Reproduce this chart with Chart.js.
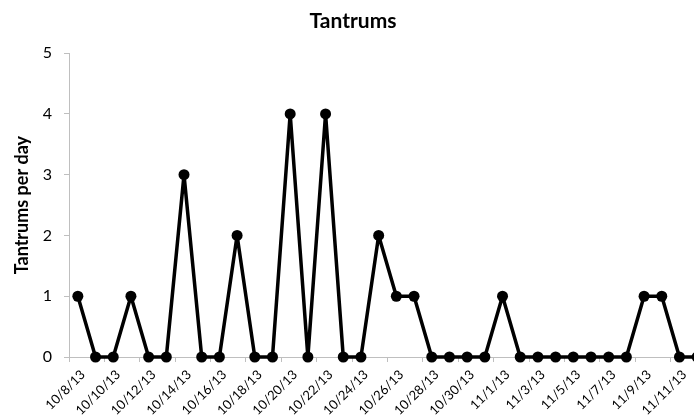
<!DOCTYPE html>
<html>
<head>
<meta charset="utf-8">
<script src="https://cdn.jsdelivr.net/npm/chart.js@4"></script>
<style>
html,body{margin:0;padding:0;background:#fff;overflow:hidden;width:694px;height:417px;}
#wrap{position:absolute;left:0;top:0;width:716px;height:417px;}
</style>
</head>
<body>
<div id="wrap"><canvas id="c" width="716" height="417"></canvas></div>
<script>
const categories = ["10/8/13","10/9/13","10/10/13","10/11/13","10/12/13","10/13/13","10/14/13","10/15/13","10/16/13","10/17/13","10/18/13","10/19/13","10/20/13","10/21/13","10/22/13","10/23/13","10/24/13","10/25/13","10/26/13","10/27/13","10/28/13","10/29/13","10/30/13","10/31/13","11/1/13","11/2/13","11/3/13","11/4/13","11/5/13","11/6/13","11/7/13","11/8/13","11/9/13","11/10/13","11/11/13","11/12/13"];
const tantrums = [1,0,0,1,0,0,3,0,0,2,0,0,4,0,4,0,0,2,1,1,0,0,0,0,1,0,0,0,0,0,0,0,1,1,0,0];
const yTicks = [0,1,2,3,4,5];
const chartTitle = "Tantrums";
const yTitle = "Tantrums per day";

const FONT = "Lato, 'Open Sans', sans-serif";
new Chart(document.getElementById('c'), {
  type: 'line',
  data: {
    labels: categories,
    datasets: [{
      data: tantrums,
      borderColor: '#000',
      backgroundColor: '#000',
      borderWidth: 3.5,
      borderJoinStyle: 'round',
      pointRadius: 5.5,
      pointHoverRadius: 5.5,
      pointBackgroundColor: '#000',
      pointBorderColor: '#000',
      pointBorderWidth: 0,
      tension: 0,
      clip: false
    }]
  },
  options: {
    responsive: false,
    animation: false,
    events: [],
    layout: { padding: { left: 0, right: 10, top: 0, bottom: 0 } },
    plugins: {
      legend: { display: false },
      tooltip: { enabled: false },
      title: {
        display: true,
        text: chartTitle,
        color: '#000',
        font: { family: FONT, size: 21, weight: 'bold' },
        padding: { top: 9, bottom: 19 }
      }
    },
    scales: {
      x: {
        type: 'category',
        offset: true,
        afterFit: s => { s.height = 60; },
        border: { display: true, color: '#bfbfbf', width: 1 },
        grid: {
          offset: true,
          drawOnChartArea: false,
          drawTicks: true,
          tickLength: 5,
          color: ctx => (ctx.index % 2 === 0 ? '#bfbfbf' : 'rgba(0,0,0,0)')
        },
        ticks: {
          autoSkip: false,
          maxRotation: 45,
          minRotation: 45,
          padding: 5,
          labelOffset: 5,
          color: '#000',
          font: { family: FONT, size: 13 },
          callback: function(v, i) { return i % 2 === 0 ? this.getLabelForValue(v) : ''; }
        }
      },
      y: {
        min: 0,
        max: 5,
        afterFit: s => { s.width = 69; },
        afterBuildTicks: s => { s.ticks = yTicks.map(v => ({ value: v })); },
        border: { display: true, color: '#bfbfbf', width: 1 },
        grid: { drawOnChartArea: false, drawTicks: true, tickLength: 5, color: '#bfbfbf' },
        ticks: { color: '#000', padding: 12, font: { family: FONT, size: 16 } },
        title: {
          display: true,
          text: yTitle,
          color: '#000',
          font: { family: FONT, size: 18, weight: 'bold' },
          padding: { top: 11, bottom: 0 }
        }
      }
    }
  }
});
</script>
</body>
</html>
